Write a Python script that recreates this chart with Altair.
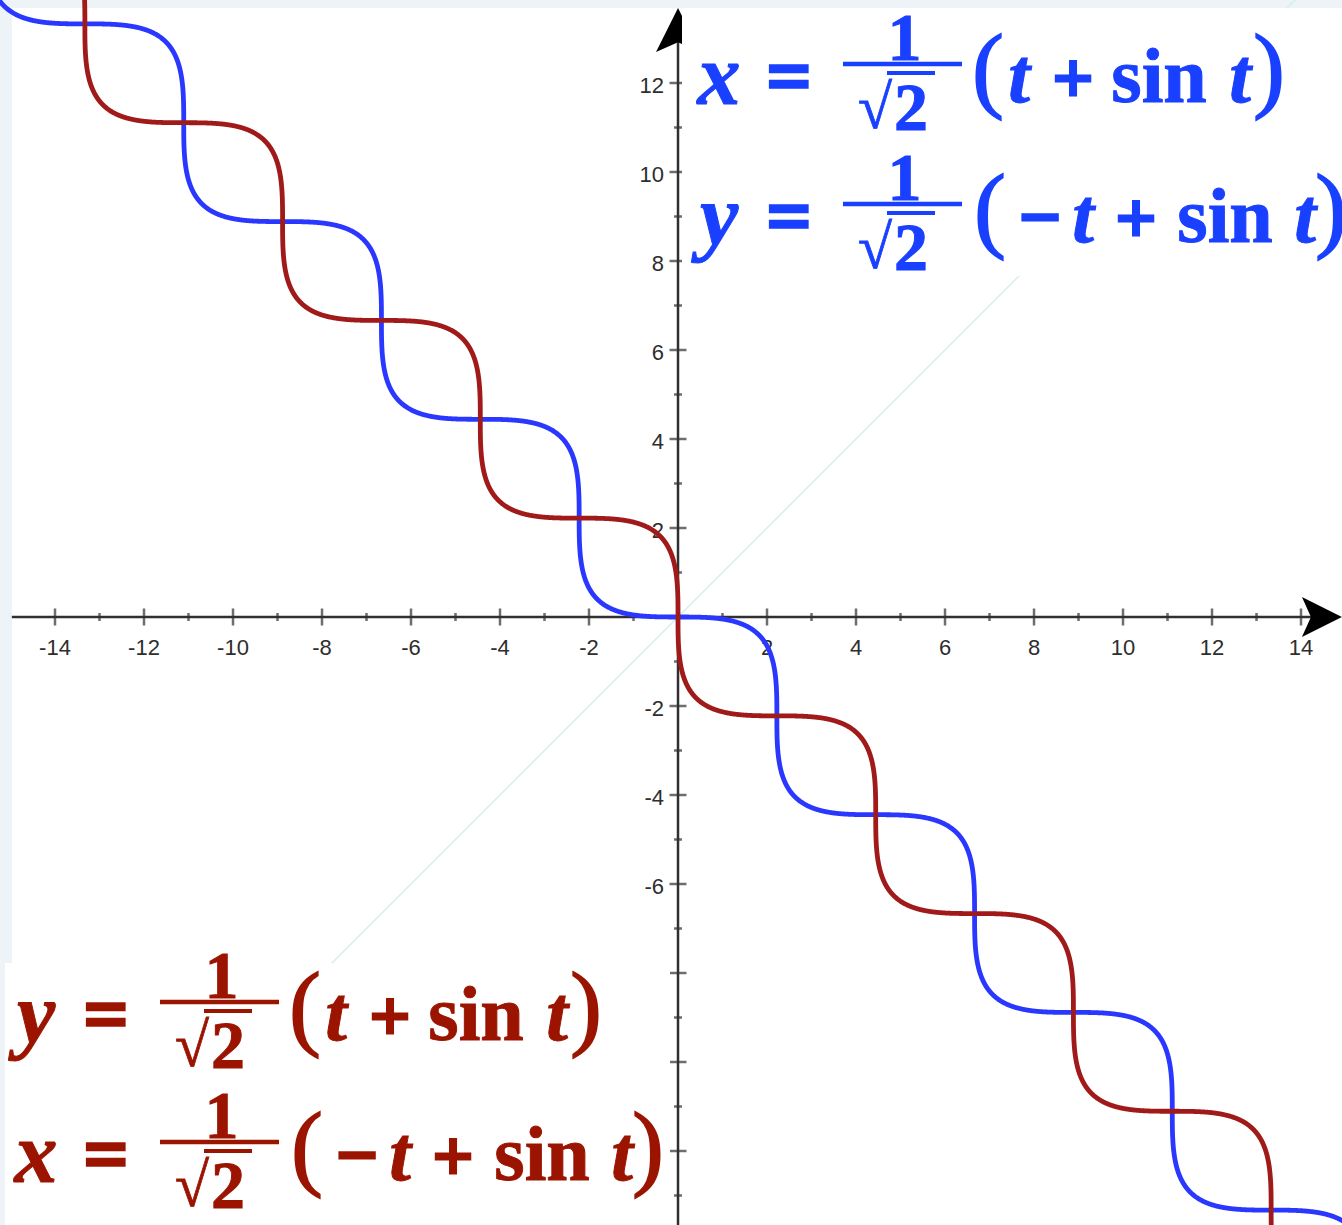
import numpy as np
import pandas as pd
import altair as alt

# Parameter values and the two parametric curves printed on the chart
t = np.arange(-22.0, 22.0001, 0.01)
r2 = np.sqrt(2.0)
blue_x = (t + np.sin(t)) / r2
blue_y = (-t + np.sin(t)) / r2
red_x = (-t + np.sin(t)) / r2
red_y = (t + np.sin(t)) / r2

# Axis ticks and labels
x_major = [-14, -12, -10, -8, -6, -4, -2, 2, 4, 6, 8, 10, 12, 14]
x_minor = [-13, -11, -9, -7, -5, -3, -1, 1, 3, 5, 7, 9, 11, 13]
y_major = [-12, -10, -8, -6, -4, -2, 2, 4, 6, 8, 10, 12]
y_minor = [-13, -11, -9, -7, -5, -3, -1, 1, 3, 5, 7, 9, 11, 13]
x_labels = [-14, -12, -10, -8, -6, -4, -2, 2, 4, 6, 8, 10, 12, 14]
y_labels = [12, 10, 8, 6, 4, 2, -2, -4, -6]

X_DOMAIN = [-15.236, 14.921]
Y_DOMAIN = [-13.663, 13.865]

BLUE_LINE = "#2a38ff"
RED_LINE = "#a01a1a"
BLUE_TEXT = "#1a40ff"
RED_TEXT = "#9b1400"
AXIS = "#303030"

xs = alt.Scale(domain=X_DOMAIN, nice=False, zero=False)
ys = alt.Scale(domain=Y_DOMAIN, nice=False, zero=False)


def X(field):
    return alt.X(field, type="quantitative", scale=xs, axis=None)


def Y(field):
    return alt.Y(field, type="quantitative", scale=ys, axis=None)


one = pd.DataFrame({"k": [0]})

# white drawing sheet over the page background
sheet = alt.Chart(one).mark_rect(color="white").encode(
    x=alt.value(12), x2=alt.value(1342), y=alt.value(8), y2=alt.value(1225)
)

# faint y = x guide line
diag_df = pd.DataFrame({"x": [-14.0, 14.0], "y": [-14.0, 14.0]})
diag = alt.Chart(diag_df).mark_line(clip=True, color="#d3f0e9", strokeWidth=1.5).encode(
    x=X("x"), y=Y("y")
)

# axis lines
axes_df = pd.DataFrame({
    "x1": [-14.97, 0.0], "x2": [14.6, 0.0],
    "y1": [0.0, -13.663], "y2": [0.0, 13.4],
})
axes = alt.Chart(axes_df).mark_rule(color=AXIS, strokeWidth=2.5).encode(
    x=X("x1"), x2="x2", y=Y("y1"), y2="y2"
)

xt_major = alt.Chart(pd.DataFrame({"v": x_major, "z": 0.0})).mark_tick(
    orient="vertical", size=17, thickness=2.5, color=AXIS
).encode(x=X("v"), y=Y("z"))
xt_minor = alt.Chart(pd.DataFrame({"v": x_minor, "z": 0.0})).mark_tick(
    orient="vertical", size=8, thickness=2.5, color=AXIS
).encode(x=X("v"), y=Y("z"))
yt_major = alt.Chart(pd.DataFrame({"v": y_major, "z": 0.0})).mark_tick(
    orient="horizontal", size=17, thickness=2.5, color=AXIS
).encode(x=X("z"), y=Y("v"))
yt_minor = alt.Chart(pd.DataFrame({"v": y_minor, "z": 0.0})).mark_tick(
    orient="horizontal", size=8, thickness=2.5, color=AXIS
).encode(x=X("z"), y=Y("v"))

xl_df = pd.DataFrame({"v": x_labels, "z": 0.0, "s": [str(v) for v in x_labels]})
yl_df = pd.DataFrame({"v": y_labels, "z": 0.0, "s": [str(v) for v in y_labels]})
xl = alt.Chart(xl_df).mark_text(
    font="Liberation Sans", fontSize=22, color="#2e2e2e", align="center",
    baseline="middle", dy=31
).encode(x=X("v"), y=Y("z"), text="s:N")
yl = alt.Chart(yl_df).mark_text(
    font="Liberation Sans", fontSize=22, color="#2e2e2e", align="right",
    baseline="middle", dx=-14, dy=3
).encode(x=X("z"), y=Y("v"), text="s:N")

blue_df = pd.DataFrame({"x": blue_x, "y": blue_y, "i": np.arange(len(t))})
red_df = pd.DataFrame({"x": red_x, "y": red_y, "i": np.arange(len(t))})
blue = alt.Chart(blue_df).mark_line(clip=True, color=BLUE_LINE, strokeWidth=4.8).encode(
    x=X("x"), y=Y("y"), order="i:Q"
)
red = alt.Chart(red_df).mark_line(clip=True, color=RED_LINE, strokeWidth=4.8).encode(
    x=X("x"), y=Y("y"), order="i:Q"
)

# arrow heads
up_arrow = alt.Chart(pd.DataFrame({"x": [0.0], "y": [13.19]})).mark_point(
    shape="M0,-1L1,1L0,0.55L-1,1Z", size=1936, filled=True, opacity=1, color="black"
).encode(x=X("x"), y=Y("y"))
right_arrow = alt.Chart(pd.DataFrame({"x": [14.47], "y": [0.0]})).mark_point(
    shape="M1,0L-1,-1L-0.55,0L-1,1Z", size=1600, filled=True, opacity=1, color="black"
).encode(x=X("x"), y=Y("y"))

# white panels behind the equations
box_blue = alt.Chart(one).mark_rect(color="white").encode(
    x=alt.value(682), x2=alt.value(1342), y=alt.value(8), y2=alt.value(276)
)
box_red = alt.Chart(one).mark_rect(color="white").encode(
    x=alt.value(5), x2=alt.value(670), y=alt.value(963), y2=alt.value(1225)
)


def tok(s, cx, base, color, size=78, italic=False, weight="bold", stroke=1.0):
    return alt.Chart(one).mark_text(
        text=s, font="Liberation Serif", fontSize=size, fontWeight=weight,
        fontStyle="italic" if italic else "normal", color=color,
        stroke=color, strokeWidth=stroke,
        align="center", baseline="alphabetic"
    ).encode(x=alt.value(cx), y=alt.value(base))


def bar(x1, x2, y, color, w=4.5):
    return alt.Chart(one).mark_rule(color=color, strokeWidth=w).encode(
        x=alt.value(x1), x2=alt.value(x2), y=alt.value(y)
    )


def fraction(left, right, bar_y, color):
    # 1 over sqrt(2)
    return [
        tok("1", (left + right) / 2 + 2, bar_y - 4, color, size=68),
        bar(left, right, bar_y, color),
        tok("√", left + 32, bar_y + 64, color, size=62, stroke=0.8),
        tok("2", left + 68, bar_y + 66, color, size=68),
        bar(left + 44, left + 92, bar_y + 9, color, w=4),
    ]


def equation(var, minus, x0, base, color):
    parts = [
        tok(var, x0 + 22, base + 2, color, size=86, italic=True),
        tok("=", x0 + 92, base, color, size=78, stroke=3.5),
    ]
    parts += fraction(x0 + 146, x0 + 265, base - 38, color)
    if minus:
        parts += [
            tok("(", x0 + 293, base - 2, color, size=96, weight="normal", stroke=1.5),
            tok("−", x0 + 343, base, color, size=74, stroke=3),
            tok("t", x0 + 386, base, color, italic=True),
            tok("+", x0 + 439, base, color, size=72, stroke=3),
            tok("sin", x0 + 528, base, color),
            tok("t", x0 + 608, base, color, italic=True),
            tok(")", x0 + 634, base - 2, color, size=96, weight="normal", stroke=1.5),
        ]
    else:
        parts += [
            tok("(", x0 + 291, base - 2, color, size=96, weight="normal", stroke=1.5),
            tok("t", x0 + 322, base, color, italic=True),
            tok("+", x0 + 376, base, color, size=72, stroke=3),
            tok("sin", x0 + 462, base, color),
            tok("t", x0 + 543, base, color, italic=True),
            tok(")", x0 + 572, base - 2, color, size=96, weight="normal", stroke=1.5),
        ]
    return parts


eqs = []
eqs += equation("x", False, 697, 102, BLUE_TEXT)
eqs += equation("y", True, 697, 242, BLUE_TEXT)
eqs += equation("y", False, 14, 1040, RED_TEXT)
eqs += equation("x", True, 14, 1180, RED_TEXT)

chart = alt.layer(
    sheet, diag, axes, xt_major, xt_minor, yt_major, yt_minor, xl, yl,
    blue, red, up_arrow, right_arrow, box_blue, box_red, *eqs
).properties(
    width=1342, height=1225, padding=0, autosize="none", background="#edf3f7"
).configure_view(stroke=None)

chart.save("out.html", embed_options={"renderer": "svg", "actions": False})
